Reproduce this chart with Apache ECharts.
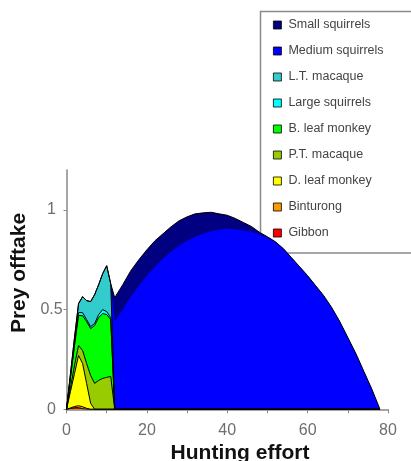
<!DOCTYPE html>
<html>
<head>
<meta charset="utf-8">
<script src="https://cdn.jsdelivr.net/npm/echarts@6/dist/echarts.min.js"></script>
<style>
  html, body { margin: 0; padding: 0; background: #fff; }
  #chart { width: 411px; height: 461px; }
</style>
</head>
<body>
<div id="chart"></div>
<script>
// Hunting effort values (shared x positions for all stacked layers)
const effort = [0,1,2,3,4,5,6,7,8,9,10,11,
  12,14,16,18,20,22,24,26,28,30,32,34,36,38,40,42,44,46,48,50,52,54,56,58,60,62,64,66,68,70,72,74,76,78];

// Layer thicknesses (stacked bottom to top)
const gibbon     = [0,0.004,0.008,0.008,0.003,0,0,0,0,0,0,0, 0,0,0,0,0,0,0,0,0,0,0,0,0,0,0,0,0,0,0,0,0,0,0,0,0,0,0,0,0,0,0,0,0,0];
const binturong  = [0,0.003,0.006,0.010,0.010,0.005,0,0,0,0,0,0, 0,0,0,0,0,0,0,0,0,0,0,0,0,0,0,0,0,0,0,0,0,0,0,0,0,0,0,0,0,0,0,0,0,0];
const dLeaf      = [0,0.083,0.166,0.252,0.217,0.125,0.03,0,0,0,0,0, 0,0,0,0,0,0,0,0,0,0,0,0,0,0,0,0,0,0,0,0,0,0,0,0,0,0,0,0,0,0,0,0,0,0];
const ptMacaque  = [0,0.02,0.04,0.05,0.065,0.10,0.14,0.13,0.145,0.155,0.16,0.165, 0,0,0,0,0,0,0,0,0,0,0,0,0,0,0,0,0,0,0,0,0,0,0,0,0,0,0,0,0,0,0,0,0,0];
const bLeaf      = [0,0.05,0.10,0.15,0.175,0.21,0.235,0.29,0.315,0.325,0.315,0.285, 0,0,0,0,0,0,0,0,0,0,0,0,0,0,0,0,0,0,0,0,0,0,0,0,0,0,0,0,0,0,0,0,0,0];
const largeSq    = [0,0.005,0.01,0.015,0.015,0.01,0.01,0.01,0.015,0.02,0.015,0.01, 0,0,0,0,0,0,0,0,0,0,0,0,0,0,0,0,0,0,0,0,0,0,0,0,0,0,0,0,0,0,0,0,0,0];
const ltMacaque  = [0,0.015,0.03,0.045,0.08,0.095,0.125,0.145,0.15,0.18,0.23,0.17, 0,0,0,0,0,0,0,0,0,0,0,0,0,0,0,0,0,0,0,0,0,0,0,0,0,0,0,0,0,0,0,0,0,0];
const mediumSq   = [0,0,0,0,0,0,0,0,0,0,0,0,
  0.44,0.50,0.565,0.62,0.67,0.715,0.755,0.79,0.82,0.845,0.865,0.88,0.893,0.90,0.905,0.902,0.897,0.89,0.876,0.86,0.84,0.805,0.76,0.715,0.67,0.62,0.57,0.51,0.44,0.36,0.28,0.19,0.10,0];
const smallSq    = [0,0,0,0,0,0,0,0,0,0,0,0,
  0.12,0.125,0.13,0.13,0.13,0.13,0.125,0.125,0.125,0.12,0.115,0.105,0.095,0.08,0.068,0.055,0.04,0.027,0.012,0.005,0,0,0,0,0,0,0,0,0,0,0,0,0,0];

// bottom-to-top stacking order
const seriesNames  = ['Gibbon','Binturong','D. leaf monkey','P.T. macaque','B. leaf monkey','Large squirrels','L.T. macaque','Medium squirrels','Small squirrels'];
const seriesValues = [gibbon, binturong, dLeaf, ptMacaque, bLeaf, largeSq, ltMacaque, mediumSq, smallSq];
const seriesColors = ['#FF0000','#FF9900','#FFFF00','#99CC00','#00FF00','#00FFFF','#33CCCC','#0000FF','#000080'];
const legendOrder  = ['Small squirrels','Medium squirrels','L.T. macaque','Large squirrels','B. leaf monkey','P.T. macaque','D. leaf monkey','Binturong','Gibbon'];

const xTicks  = [0,10,20,30,40,50,60,70,80];
const xLabels = [0,20,40,60,80];
const yTicks  = [0,0.5,1];
const yLabels = [0,0.5,1];

const font = '"Liberation Sans", Arial, sans-serif';

// cumulative tops for each layer
const running = effort.map(() => 0);
const cumulative = seriesValues.map(vals => vals.map((v, j) => (running[j] = running[j] + v)));

// draw the top layer first so lower layers paint over it
const series = [];
for (let i = seriesNames.length - 1; i >= 0; i--) {
  series.push({
    name: seriesNames[i],
    type: 'line',
    symbol: 'none',
    showSymbol: false,
    silent: true,
    data: effort.map((x, j) => [x, cumulative[i][j]]),
    itemStyle: { color: seriesColors[i] },
    lineStyle: { color: '#000', width: seriesNames[i] === 'Medium squirrels' ? 0 : 1 },
    areaStyle: { color: seriesColors[i], opacity: 1, origin: 'start' },
    z: 2
  });
}

const chart = echarts.init(document.getElementById('chart'), null, { renderer: 'canvas' });
chart.setOption({
  animation: false,
  backgroundColor: '#fff',
  grid: { left: 66.5, right: 23, top: 170, bottom: 51.7, containLabel: false, outerBoundsMode: 'none' },
  xAxis: {
    type: 'value', min: 0, max: 80, interval: 10,
    axisLine: { show: true, lineStyle: { color: '#888', width: 1.5 } },
    axisTick: { show: true, inside: false, length: 4, lineStyle: { color: '#888', width: 1 }, customValues: xTicks },
    axisLabel: { customValues: xLabels, margin: 13, fontSize: 16, color: '#6e6e6e', fontFamily: font },
    splitLine: { show: false }
  },
  yAxis: {
    type: 'value', min: 0, max: 1.2, interval: 0.5,
    axisLine: { show: true, lineStyle: { color: '#888', width: 1.5 } },
    axisTick: { show: true, inside: false, length: 3, lineStyle: { color: '#888', width: 1 }, customValues: yTicks },
    axisLabel: { customValues: yLabels, margin: 15, align: 'center', fontSize: 16, color: '#6e6e6e', fontFamily: font },
    splitLine: { show: false }
  },
  legend: {
    data: legendOrder,
    orient: 'vertical',
    left: 273, top: 18,
    padding: 0,
    itemWidth: 8, itemHeight: 8,
    itemGap: 12,
    icon: 'rect',
    itemStyle: { borderColor: '#000', borderWidth: 0.8 },
    textStyle: { fontSize: 12.5, color: '#444', fontFamily: font, lineHeight: 14, padding: [0,0,0,2] },
    selectedMode: false
  },
  graphic: [
    { type: 'rect', z: 1, silent: true,
      shape: { x: 260.5, y: 11.5, width: 170, height: 241.5 },
      style: { fill: 'none', stroke: '#8a8a8a', lineWidth: 1.5 } },
    { type: 'text', x: 19, y: 273, rotation: Math.PI / 2, silent: true,
      style: { text: 'Prey offtake', font: 'bold 21px ' + font, fill: '#111', textAlign: 'center', textVerticalAlign: 'middle' } },
    { type: 'text', x: 240, y: 442.5, silent: true,
      style: { text: 'Hunting effort', font: 'bold 21px ' + font, fill: '#111', textAlign: 'center', textVerticalAlign: 'top' } }
  ],
  series: series
});
</script>
</body>
</html>
